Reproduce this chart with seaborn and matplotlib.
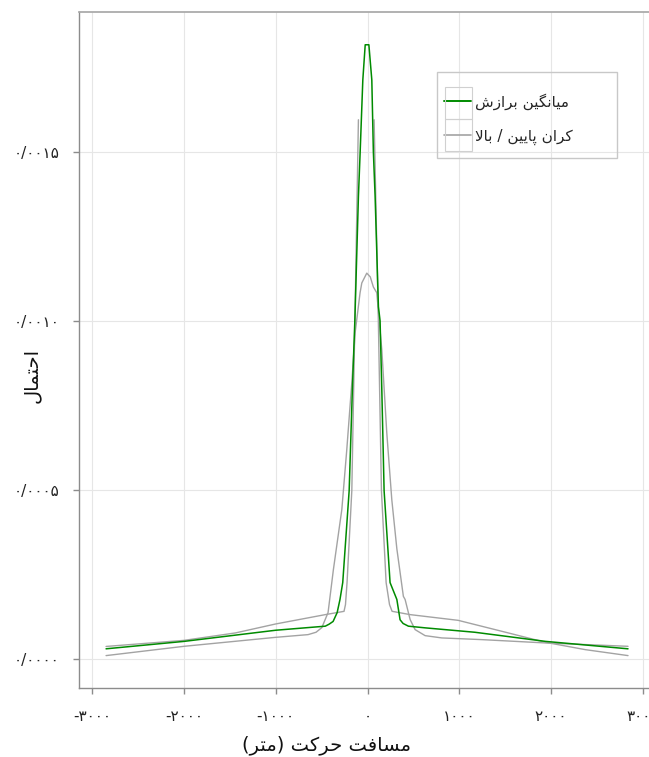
import matplotlib

matplotlib.use("Agg")
import matplotlib.pyplot as plt
import seaborn as sns
from matplotlib.lines import Line2D
from matplotlib.patches import Rectangle
from matplotlib.ticker import FixedLocator, FuncFormatter

# ──────────────────────────────────────────────────────────────────
#  Data
# ──────────────────────────────────────────────────────────────────
mean_dist = [-2850, -2000, -1000, -460, -418, -375, -331, -300, -270, -200,
             -165, -138, -99, -80, -51, -25, 15, 47, 64, 83, 119, 137, 156,
             181, 246, 320, 355, 388, 446, 630, 1170, 1940, 2840]
mean_prob = [2.9e-5, 5.1e-5, 8.4e-5, 9.6e-5, 1.02e-4, 1.10e-4, 1.36e-4,
             1.75e-4, 2.25e-4, 4.97e-4, 7.96e-4, 1.0e-3, 1.368e-3, 1.5e-3,
             1.713e-3, 1.817e-3, 1.817e-3, 1.713e-3, 1.5e-3, 1.368e-3,
             1.042e-3, 1.0e-3, 7.96e-4, 4.97e-4, 2.25e-4, 1.75e-4, 1.15e-4,
             1.04e-4, 9.6e-5, 9.1e-5, 7.8e-5, 5.1e-5, 2.9e-5]

# upper bound: no value near the centre, so two separate pieces
upper_left_dist = [-2850, -2000, -1440, -1000, -460, -256, -240, -223, -171,
                   -149, -135, -99]
upper_left_prob = [3.6e-5, 5.4e-5, 7.6e-5, 1.026e-4, 1.302e-4, 1.399e-4,
                   1.6e-4, 2.25e-4, 4.97e-4, 8.25e-4, 1.033e-3, 1.595e-3]
upper_right_dist = [72, 116, 130, 152, 203, 240, 268, 465, 988, 1465, 1937,
                    2373, 2840]
upper_right_prob = [1.595e-3, 1.033e-3, 8.25e-4, 4.97e-4, 2.25e-4, 1.6e-4,
                    1.40e-4, 1.302e-4, 1.133e-4, 8.08e-5, 4.84e-5, 2.66e-5,
                    8.9e-6]

lower_dist = [-2850, -2000, -1000, -648, -561, -498, -430, -372, -280, -226,
              -171, -135, -81, -62, -8, 30, 64, 101, 156, 210, 265, 320, 391,
              410, 465, 519, 628, 810, 1246, 1937, 2840]
lower_prob = [8.9e-6, 3.64e-5, 6.3e-5, 7.1e-5, 7.8e-5, 9.17e-5, 1.361e-4,
              2.63e-4, 4.41e-4, 6.18e-4, 8.17e-4, 9.64e-4, 1.083e-3,
              1.112e-3, 1.141e-3, 1.13e-3, 1.1e-3, 1.083e-3, 9.14e-4,
              6.69e-4, 4.70e-4, 3.25e-4, 1.843e-4, 1.75e-4, 1.154e-4,
              8.58e-5, 6.8e-5, 6.12e-5, 5.62e-5, 4.64e-5, 3.64e-5]

x_ticks = [-3000, -2000, -1000, 0, 1000, 2000, 3000]
y_ticks = [0.0, 0.0005, 0.0010, 0.0015]

x_label = "مسافت حرکت (متر)"
y_label = "احتمال"
legend_labels = ["میانگین برازش", "کران پایین / بالا"]

GREEN = "#008B00"
GREY = "#A3A3A3"

# ──────────────────────────────────────────────────────────────────
#  Persian text: contextual forms + visual (right-to-left) order
# ──────────────────────────────────────────────────────────────────
# (isolated, final, initial, medial)
FORMS = {
    "ا": ("\uFE8D", "\uFE8E", None, None),
    "ر": ("\uFEAD", "\uFEAE", None, None),
    "ز": ("\uFEAF", "\uFEB0", None, None),
    "ب": ("\uFE8F", "\uFE90", "\uFE91", "\uFE92"),
    "ت": ("\uFE95", "\uFE96", "\uFE97", "\uFE98"),
    "ح": ("\uFEA1", "\uFEA2", "\uFEA3", "\uFEA4"),
    "س": ("\uFEB1", "\uFEB2", "\uFEB3", "\uFEB4"),
    "ش": ("\uFEB5", "\uFEB6", "\uFEB7", "\uFEB8"),
    "ف": ("\uFED1", "\uFED2", "\uFED3", "\uFED4"),
    "ل": ("\uFEDD", "\uFEDE", "\uFEDF", "\uFEE0"),
    "م": ("\uFEE1", "\uFEE2", "\uFEE3", "\uFEE4"),
    "ن": ("\uFEE5", "\uFEE6", "\uFEE7", "\uFEE8"),
    "پ": ("\uFB56", "\uFB57", "\uFB58", "\uFB59"),
    "ک": ("\uFB8E", "\uFB8F", "\uFB90", "\uFB91"),
    "گ": ("\uFB92", "\uFB93", "\uFB94", "\uFB95"),
    "ی": ("\uFBFC", "\uFBFD", "\uFBFE", "\uFBFF"),
}


def _joins_next(c: str) -> bool:
    return c in FORMS and FORMS[c][2] is not None


def fa(text: str) -> str:
    """Shape Persian text and put it in visual order for matplotlib."""
    out = []
    i = 0
    while i < len(text):
        c = text[i]
        if c not in FORMS:
            out.append(c)
            i += 1
            continue
        after_link = i > 0 and _joins_next(text[i - 1])
        nxt = text[i + 1] if i + 1 < len(text) else ""
        if c == "ل" and nxt == "ا":
            out.append("\uFEFC" if after_link else "\uFEFB")
            i += 2
            continue
        before_link = _joins_next(c) and nxt in FORMS
        iso, fin, ini, med = FORMS[c]
        if after_link and before_link:
            out.append(med)
        elif after_link:
            out.append(fin)
        elif before_link:
            out.append(ini)
        else:
            out.append(iso)
        i += 1
    return "".join(out)[::-1].translate(str.maketrans("()", ")("))


FA_DIGITS = str.maketrans("0123456789.", "۰۱۲۳۴۵۶۷۸۹/")

# ──────────────────────────────────────────────────────────────────
#  Figure
# ──────────────────────────────────────────────────────────────────
sns.set_theme(style="whitegrid")
plt.rcParams["font.family"] = ["DejaVu Sans"]

fig = plt.figure(figsize=(6.49, 7.57), dpi=100)
ax = fig.add_axes([79 / 649, 69 / 757, 577 / 649, 676 / 757])

sns.lineplot(x=lower_dist, y=lower_prob, color=GREY, linewidth=1.0, ax=ax)
sns.lineplot(x=upper_left_dist, y=upper_left_prob, color=GREY, linewidth=1.0, ax=ax)
sns.lineplot(x=upper_right_dist, y=upper_right_prob, color=GREY, linewidth=1.0, ax=ax)
sns.lineplot(x=mean_dist, y=mean_prob, color=GREEN, linewidth=1.1, ax=ax)

ax.set_xlim(-3145, 3145)
ax.set_ylim(-8.7e-5, 1.914e-3)
ax.xaxis.set_major_locator(FixedLocator(x_ticks))
ax.yaxis.set_major_locator(FixedLocator(y_ticks))
ax.xaxis.set_major_formatter(FuncFormatter(lambda v, p: f"{v:.0f}".translate(FA_DIGITS)))
ax.yaxis.set_major_formatter(FuncFormatter(lambda v, p: f"{v:.4f}".translate(FA_DIGITS)))

ax.grid(True, color="#E6E6E6", linewidth=0.8)
ax.set_facecolor("white")
for side in ["left", "bottom"]:
    ax.spines[side].set_color("#8C8C8C")
    ax.spines[side].set_linewidth(1.0)
ax.spines["top"].set_color("#A8A8A8")
ax.spines["right"].set_color("#A8A8A8")
ax.tick_params(axis="both", which="major", direction="out", length=4,
               width=1.0, color="#8C8C8C", labelsize=11, labelcolor="#222222")
ax.tick_params(axis="x", pad=11, bottom=True)
ax.tick_params(axis="y", pad=10, left=True)

ax.set_xlabel(fa(x_label), fontsize=14, color="#111111", va="center")
ax.xaxis.set_label_coords((327 - 79) / 577, (12 - 69) / 676)
ax.set_ylabel(fa(y_label), fontsize=14, color="#111111", va="center")
ax.yaxis.set_label_coords((31 - 79) / 577, (757 - 375 - 69) / 676)

# legend: outer frame and key boxes drawn as in the reference
fig.patches.append(Rectangle((437 / 649, 1 - 158 / 757), 180 / 649, 86 / 757,
                             transform=fig.transFigure, fill=False,
                             edgecolor="#C8C8C8", linewidth=1.0))
for top in (87, 119):
    fig.patches.append(Rectangle((445 / 649, 1 - (top + 32) / 757), 27 / 649, 32 / 757,
                                 transform=fig.transFigure, fill=False,
                                 edgecolor="#D0D0D0", linewidth=0.8))
handles = [Line2D([], [], color=GREEN, linewidth=1.4),
           Line2D([], [], color=GREY, linewidth=1.2)]
ax.legend(handles, [fa(t) for t in legend_labels],
          loc="center left", bbox_to_anchor=(444 / 649, 1 - 119 / 757),
          bbox_transform=fig.transFigure, frameon=False, fontsize=11,
          handlelength=1.75, handletextpad=0.25, borderpad=0,
          borderaxespad=0, labelspacing=1.25)

fig.savefig("out.png", dpi=100)
plt.close(fig)
